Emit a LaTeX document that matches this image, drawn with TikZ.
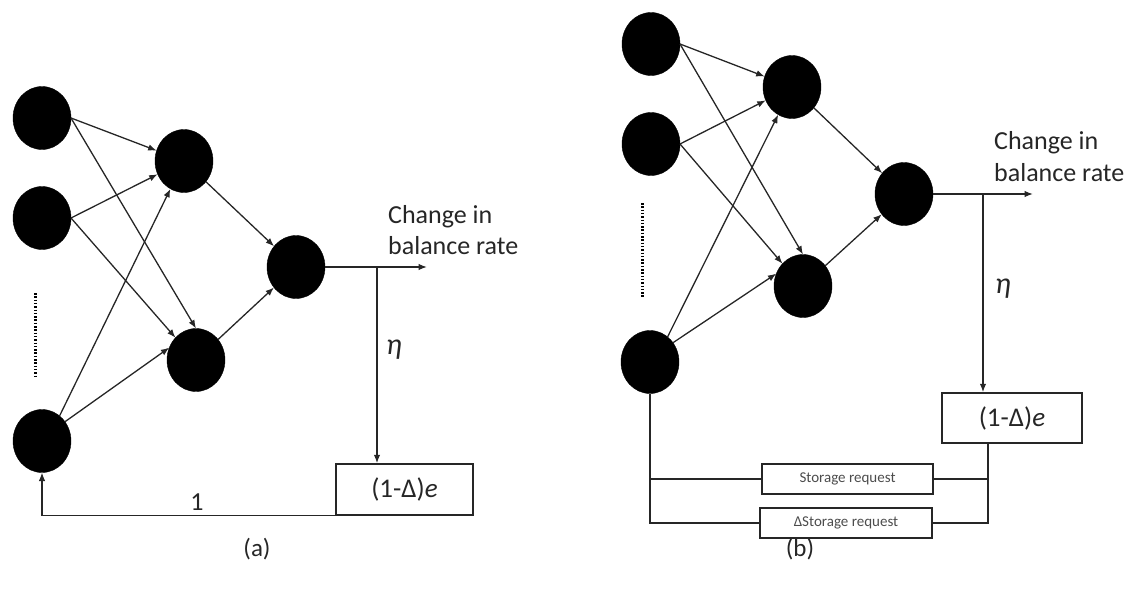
\documentclass[tikz,border=0pt]{standalone}
\usepackage{fontspec}
\setmainfont{Carlito}
\usetikzlibrary{shapes.geometric,arrows.meta,calc}
\begin{document}
\begin{tikzpicture}[x=1pt,y=-1pt,
  neuron/.style={ellipse, fill=black, draw=black, minimum width=58pt, minimum height=63pt, inner sep=0pt, outer sep=0pt},
  conn/.style={draw=black!85, line width=1.3pt, -{Latex[length=8.5pt,width=6.5pt]}},
  wire/.style={draw=black!85, line width=1.4pt},
  ebox/.style={draw=black!85, line width=1.5pt, inner sep=0pt, text=black!85, font=\fontsize{27}{30}\selectfont},
  sbox/.style={draw=black!85, line width=1.4pt, inner sep=0pt, text=black!70, font=\fontsize{15}{17}\selectfont},
  lbl/.style={inner sep=0pt, font=\fontsize{26}{31}\selectfont, text=black!85},
  etalbl/.style={inner sep=0pt, font=\fontsize{30}{34}\selectfont\itshape, text=black!85},
  dotline/.style={draw=black, line width=3pt, dash pattern=on 1.5pt off 1.8pt}
]
\useasboundingbox (0,0) rectangle (1132,589);

% ---------------- panel (a) ----------------
\node[neuron] (i1a) at (42,118) {};
\node[neuron] (i2a) at (42,218) {};
\node[neuron] (i3a) at (42,441) {};
\node[neuron] (h1a) at (184,161) {};
\node[neuron] (h2a) at (196,360) {};
\node[neuron] (oa) at (296,267) {};

\draw[conn] (i1a.east) -- (h1a);
\draw[conn] (i1a.east) -- (h2a.north);
\draw[conn] (i2a.east) -- (h1a);
\draw[conn] (i2a.east) -- (h2a.north west);
\draw[conn] (i3a.55) -- (h1a);
\draw[conn] (i3a.40) -- (h2a.155);
\draw[conn] (h1a) -- (oa);
\draw[conn] (h2a) -- (oa);

\coordinate (d1a) at (35,293);
\coordinate (d2a) at (35,378);
\draw[dotline] (d1a) -- (d2a);

\coordinate (enda) at (427,267);
\coordinate (ja) at (377,267);
\draw[conn] (oa.east) -- (enda);
\node[lbl, anchor=base west] (c1a) at (388,223) {Change in};
\node[lbl, anchor=base west] (c2a) at (388,254) {balance rate};

\node[ebox, minimum width=137pt, minimum height=51pt] (ba) at (404.5,489.5) {(1-Δ)\textit{e}};
\draw[conn] (ja) -- (ja |- ba.north);
\node[etalbl] (etaa) at (394,350) {η};

\draw[conn] (ba.south west) -| (i3a.south);
\node[lbl] (onea) at (197,502) {1};
\node[lbl, font=\fontsize{25}{28}\selectfont] (capa) at (257,549) {(a)};

% ---------------- panel (b) ----------------
\node[neuron] (i1b) at (651,44) {};
\node[neuron] (i2b) at (651,144) {};
\node[neuron] (i3b) at (650,362) {};
\node[neuron] (h1b) at (792,87) {};
\node[neuron] (h2b) at (803,286) {};
\node[neuron] (ob) at (904,194) {};

\draw[conn] (i1b.east) -- (h1b);
\draw[conn] (i1b.east) -- (h2b.north);
\draw[conn] (i2b.east) -- (h1b);
\draw[conn] (i2b.east) -- (h2b.north west);
\draw[conn] (i3b.55) -- (h1b);
\draw[conn] (i3b.40) -- (h2b.155);
\draw[conn] (h1b) -- (ob);
\draw[conn] (h2b) -- (ob);

\coordinate (d1b) at (642,203);
\coordinate (d2b) at (642,298);
\draw[dotline] (d1b) -- (d2b);

\coordinate (endb) at (1033,194);
\coordinate (jb) at (983,194);
\draw[conn] (ob.east) -- (endb);
\node[lbl, anchor=base west] (c1b) at (994,149) {Change in};
\node[lbl, anchor=base west] (c2b) at (994,181) {balance rate};

\node[ebox, minimum width=140pt, minimum height=50pt] (bb) at (1012,418) {(1-Δ)\textit{e}};
\draw[conn] (jb) -- (jb |- bb.north);
\node[etalbl] (etab) at (1003,289) {η};

\node[sbox, minimum width=171pt, minimum height=30pt] (sb) at (847.5,479) {Storage request};
\node[sbox, minimum width=172pt, minimum height=30pt] (dsb) at (846,523) {ΔStorage request};

\coordinate (rb) at ([xshift=-24pt]bb.south);
\draw[wire] (rb) |- (dsb.east);
\draw[wire] (rb |- sb.east) -- (sb.east);
\draw[wire] (i3b.south) |- (dsb.west);
\draw[wire] (i3b.south |- sb.west) -- (sb.west);

\node[lbl, font=\fontsize{25}{28}\selectfont] (capb) at (800,549) {(b)};
\end{tikzpicture}
\end{document}
